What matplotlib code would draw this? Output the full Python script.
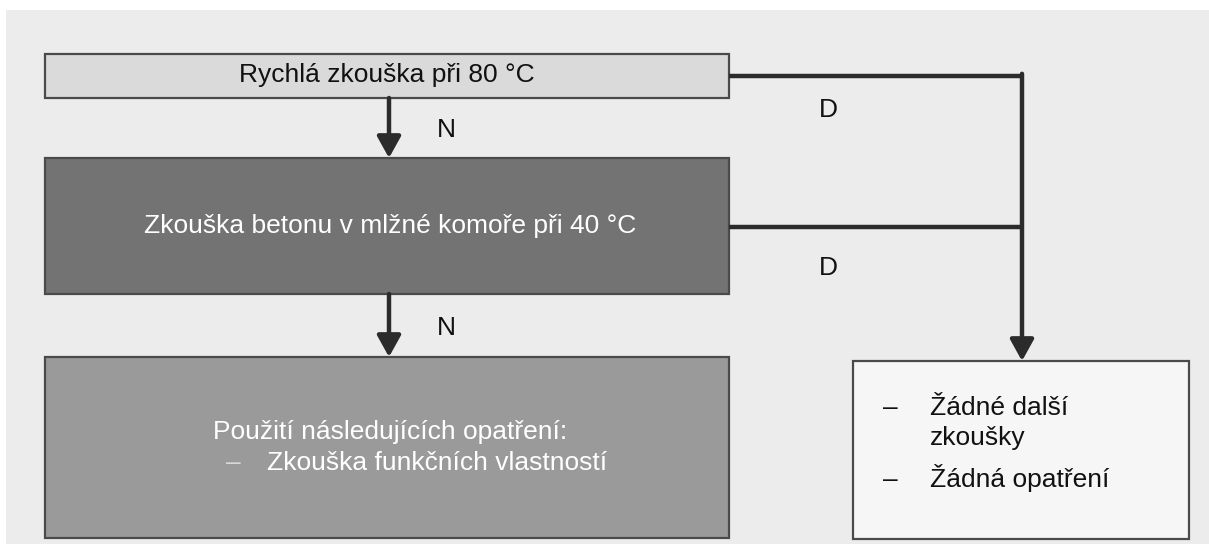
import matplotlib.pyplot as plt
from matplotlib.patches import Rectangle

plt.rcParams['font.family'] = ['Liberation Sans', 'DejaVu Sans']

# texts of the flowchart
box_texts = ["Rychlá zkouška při 80 °C",
             "Zkouška betonu v mlžné komoře při 40 °C"]
measures_title = "Použití následujících opatření:"
measures_items = ["Zkouška funkčních vlastností"]
result_lines = ["Žádné další", "zkoušky", "Žádná opatření"]
no_label = "N"
yes_label = "D"

fig = plt.figure(figsize=(12.09, 5.44), dpi=100)
fig.patch.set_facecolor('white')
ax = fig.add_axes([0, 0, 1, 1])
ax.set_xlim(0, 1209)
ax.set_ylim(544, 0)
ax.axis('off')

# paper background
ax.add_patch(Rectangle((6, 10), 1203, 534, facecolor='#ececec', edgecolor='none'))

line_c = '#2b2b2b'
fs = 19

def box(x0, y0, x1, y1, fc):
    ax.add_patch(Rectangle((x0, y0), x1 - x0, y1 - y0, facecolor=fc,
                           edgecolor='#4a4a4a', lw=1.6))

box(45, 54, 729, 98, '#dadada')
box(45, 158, 729, 294, '#737373')
box(45, 357, 729, 538, '#9a9a9a')
box(853, 361, 1189, 539, '#f6f6f6')

ax.text(387, 82, box_texts[0], ha='center', va='baseline', fontsize=fs, color='#111111')
ax.text(390, 233, box_texts[1], ha='center', va='baseline', fontsize=fs, color='white')

ax.text(213, 439, measures_title, ha='left', va='baseline', fontsize=fs, color='white')
ax.text(226, 470, "–", ha='left', va='baseline', fontsize=fs, color='#d8d8d8')
ax.text(267, 470, measures_items[0], ha='left', va='baseline', fontsize=fs, color='white')

# result box
ax.text(883, 415, "–", ha='left', va='baseline', fontsize=fs, color='#111111')
ax.text(930, 415, result_lines[0], ha='left', va='baseline', fontsize=fs, color='#111111')
ax.text(930, 445, result_lines[1], ha='left', va='baseline', fontsize=fs, color='#111111')
ax.text(883, 487, "–", ha='left', va='baseline', fontsize=fs, color='#111111')
ax.text(930, 487, result_lines[2], ha='left', va='baseline', fontsize=fs, color='#111111')

# arrows down (N)
arrow = dict(arrowstyle='-|>,head_length=0.65,head_width=0.36', color=line_c, lw=3.2,
             shrinkA=0, shrinkB=0, mutation_scale=20)
ax.annotate('', xy=(389, 158), xytext=(389, 98), arrowprops=arrow)
ax.annotate('', xy=(389, 357), xytext=(389, 294), arrowprops=arrow)
ax.text(446, 137, no_label, ha='center', va='baseline', fontsize=fs, color='#111111')
ax.text(446, 335, no_label, ha='center', va='baseline', fontsize=fs, color='#111111')

# yes branch
ax.plot([729, 1024.2], [76, 76], color=line_c, lw=3.2, solid_capstyle='butt')
ax.plot([729, 1022], [227, 227], color=line_c, lw=3.2, solid_capstyle='butt')
ax.annotate('', xy=(1022, 361), xytext=(1022, 73.8), arrowprops=arrow)
ax.text(828, 117, yes_label, ha='center', va='baseline', fontsize=fs, color='#111111')
ax.text(828, 275, yes_label, ha='center', va='baseline', fontsize=fs, color='#111111')

fig.savefig('out.png', dpi=100)
